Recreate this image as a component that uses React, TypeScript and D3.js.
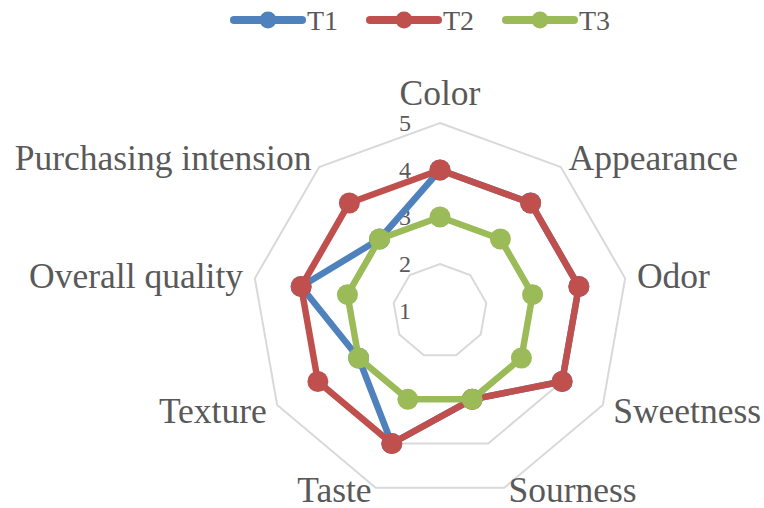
import React, { useRef, useEffect } from 'react';
import * as d3 from 'd3';

// ── Data ──────────────────────────────────────────────────────────────────────
const CATEGORIES = [
  'Color', 'Appearance', 'Odor', 'Sweetness', 'Sourness',
  'Taste', 'Texture', 'Overall quality', 'Purchasing intension',
];
const SERIES_NAMES = ['T1', 'T2', 'T3'];
const T1 = [4, 4, 4, 4, 3, 4, 3, 4, 3];
const T2 = [4, 4, 4, 4, 3, 4, 4, 4, 4];
const T3 = [3, 3, 3, 3, 3, 3, 3, 3, 3];
const TICKS = [1, 2, 3, 4, 5];
const COLORS = ['#4F81BD', '#C0504D', '#9BBB59'];

const W = 764;
const H = 508;
const FONT = '"Liberation Serif", "Times New Roman", serif';
const TEXT = '#595959';

export default function App() {
  const svgRef = useRef<SVGSVGElement>(null);

  useEffect(() => {
    if (!svgRef.current) return;
    const svg = d3.select(svgRef.current);
    svg.selectAll('*').remove();

    // ── Layout ──────────────────────────────────────────────────────────────
    const cx = 440;
    const cy = 311;
    const R = 188;
    const r = d3.scaleLinear().domain([1, 5]).range([0, R]);
    const n = CATEGORIES.length;
    const angle = d3.scaleLinear().domain([0, n]).range([0, 2 * Math.PI]);
    const pt = (i: number, v: number): [number, number] => {
      const a = angle(i);
      return [cx + r(v) * Math.sin(a), cy - r(v) * Math.cos(a)];
    };

    const g = svg.append('g');

    // ── Grid ────────────────────────────────────────────────────────────────
    TICKS.slice(1).forEach(t => {
      const pts = CATEGORIES.map((_, i) => pt(i, t));
      g.append('path')
        .attr('d', d3.line().curve(d3.curveLinearClosed)(pts) || '')
        .attr('fill', 'none')
        .attr('stroke', '#D9D9D9')
        .attr('stroke-width', 2);
    });

    // ── Tick labels ─────────────────────────────────────────────────────────
    TICKS.forEach(t => {
      g.append('text')
        .attr('x', cx - 29)
        .attr('y', cy - r(t))
        .attr('dy', '0.35em')
        .attr('text-anchor', 'end')
        .attr('font-family', FONT)
        .attr('font-size', 24)
        .attr('fill', TEXT)
        .text(String(t));
    });

    // ── Category labels ─────────────────────────────────────────────────────
    CATEGORIES.forEach((c, i) => {
      const a = angle(i);
      const s = Math.sin(a);
      const co = Math.cos(a);
      const d = R + 12;
      const x = cx + d * s;
      const y = cy - d * co;
      const anchor = s > 0.1 ? 'start' : s < -0.1 ? 'end' : 'middle';
      const t = g.append('text')
        .attr('x', x)
        .attr('text-anchor', anchor)
        .attr('font-family', FONT)
        .attr('font-size', 35.5)
        .attr('fill', TEXT)
        .text(c);
      if (co > 0.9) t.attr('y', y - 6);
      else if (co < -0.7) t.attr('y', y + 3);
      else t.attr('y', y).attr('dy', '0.33em');
    });

    // ── Series ──────────────────────────────────────────────────────────────
    const data = [T1, T2, T3];
    data.forEach((vals, si) => {
      const pts = vals.map((v, i) => pt(i, v));
      g.append('path')
        .attr('d', d3.line().curve(d3.curveLinearClosed)(pts) || '')
        .attr('fill', 'none')
        .attr('stroke', COLORS[si])
        .attr('stroke-width', 6.5)
        .attr('stroke-linejoin', 'round');
      pts.forEach(p => {
        g.append('circle')
          .attr('cx', p[0]).attr('cy', p[1])
          .attr('r', 10.5)
          .attr('fill', COLORS[si]);
      });
    });

    // ── Legend ──────────────────────────────────────────────────────────────
    const legendX = d3.scaleOrdinal<string, number>().domain(SERIES_NAMES).range([230, 366, 502]);
    SERIES_NAMES.forEach((name, si) => {
      const x0 = legendX(name);
      const lg = svg.append('g').attr('transform', `translate(${x0},20)`);
      lg.append('line')
        .attr('x1', 4).attr('x2', 72)
        .attr('stroke', COLORS[si])
        .attr('stroke-width', 8)
        .attr('stroke-linecap', 'round');
      lg.append('circle').attr('cx', 38).attr('r', 8.5).attr('fill', COLORS[si]);
      lg.append('text')
        .attr('x', 77).attr('y', 0).attr('dy', '0.35em')
        .attr('font-family', FONT)
        .attr('font-size', 28)
        .attr('fill', TEXT)
        .text(name);
    });
  }, []);

  return (
    <svg
      ref={svgRef}
      width={W}
      height={H}
      style={{ position: 'absolute', left: 0, top: 0, background: '#fff' }}
    />
  );
}
